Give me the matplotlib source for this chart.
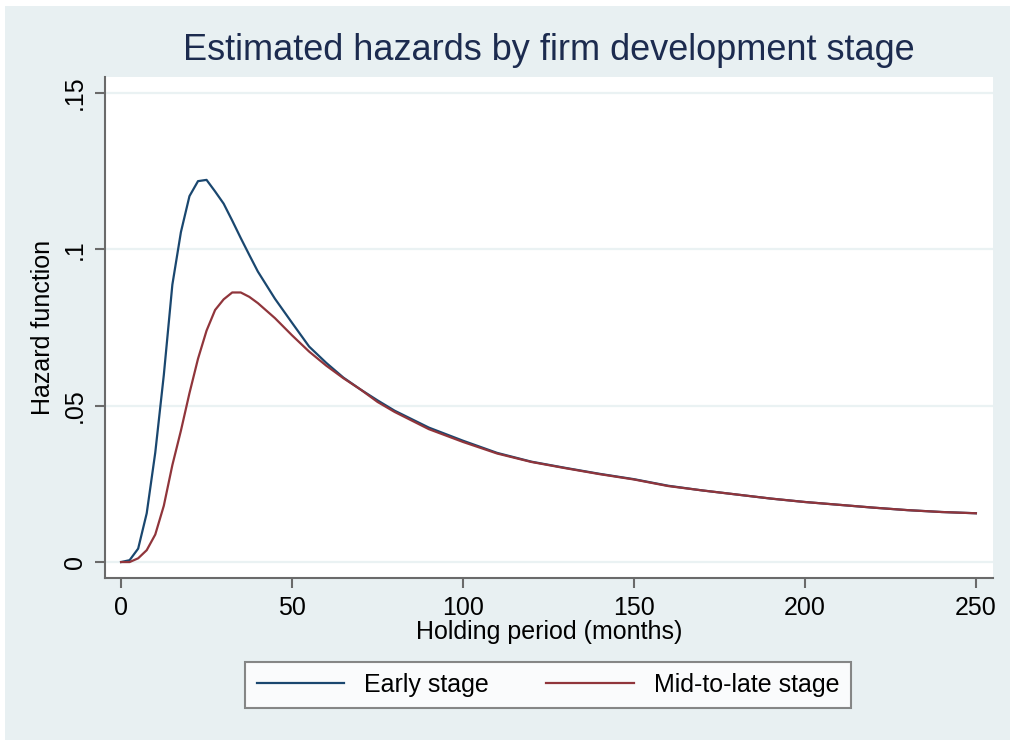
import matplotlib.pyplot as plt
from matplotlib.patches import Rectangle

# holding period grid (months) and estimated hazards for each stage
months = [0, 2.5, 5, 7.5, 10, 12.5, 15, 17.5, 20, 22.5, 25, 27.5, 30, 32.5, 35,
          37.5, 40, 45, 50, 55, 60, 65, 70, 75, 80, 90, 100, 110, 120, 130,
          140, 150, 160, 170, 180, 190, 200, 210, 220, 230, 240, 250]
hazard_early = [0, 0.0006, 0.0043, 0.0156, 0.035, 0.0598, 0.0887, 0.1055, 0.117,
                0.1218, 0.1222, 0.1185, 0.1146, 0.1092, 0.1036, 0.0982, 0.0929,
                0.0842, 0.0765, 0.0689, 0.0637, 0.0590, 0.0552, 0.0517, 0.0484,
                0.0430, 0.0388, 0.0349, 0.0321, 0.0301, 0.0282, 0.0265, 0.0244,
                0.0229, 0.0216, 0.0203, 0.0192, 0.0183, 0.0174, 0.0166, 0.0160,
                0.0156]
hazard_late = [0, 0.0, 0.0012, 0.0038, 0.0088, 0.0180, 0.031, 0.0420, 0.0540,
               0.0650, 0.0740, 0.0806, 0.0840, 0.0862, 0.0862, 0.0848, 0.0828,
               0.0780, 0.0725, 0.0673, 0.0628, 0.0588, 0.0552, 0.0512, 0.0480,
               0.0425, 0.0384, 0.0347, 0.0320, 0.0300, 0.0281, 0.0264, 0.0243,
               0.0229, 0.0216, 0.0203, 0.0192, 0.0183, 0.0174, 0.0166, 0.0160,
               0.0156]

xticks = [0, 50, 100, 150, 200, 250]
yticks = [0, 0.05, 0.1, 0.15]
ytick_labels = ["0", ".05", ".1", ".15"]

NAVY = "#1A476F"
MAROON = "#90353B"
PANEL = "#E8F0F2"
GRID = "#EAF2F3"
AXIS = "#6A6A6A"

plt.rcParams["font.family"] = ["Liberation Sans", "DejaVu Sans"]

fig = plt.figure(figsize=(10.1, 7.4), dpi=100, facecolor="white")
# graph region panel (leaves a thin white strip on top/left)
fig.patches.append(Rectangle((5 / 1010, 0), 1, 1 - 6 / 740, transform=fig.transFigure,
                             facecolor=PANEL, edgecolor="none", zorder=-1))

ax = fig.add_axes([105 / 1010, 162 / 740, 888 / 1010, 501 / 740])
ax.set_facecolor("white")

ax.plot(months, hazard_early, color=NAVY, lw=1.6, label="Early stage", zorder=3)
ax.plot(months, hazard_late, color=MAROON, lw=1.6, label="Mid-to-late stage", zorder=3)

ax.set_xlim(-4.7, 255)
ax.set_ylim(-0.0051, 0.1551)
ax.set_xticks(xticks)
ax.set_yticks(yticks)
ax.set_yticklabels(ytick_labels, rotation=90, va="center")
for y in yticks:
    ax.axhline(y, color=GRID, lw=1.6, zorder=1)

for side in ("top", "right"):
    ax.spines[side].set_visible(False)
for side in ("left", "bottom"):
    ax.spines[side].set_color(AXIS)
    ax.spines[side].set_linewidth(1.5)
ax.tick_params(length=7, width=1.5, color=AXIS, labelsize=18, pad=6)

ax.set_xlabel("Holding period (months)", fontsize=18, labelpad=0)
ax.set_ylabel("Hazard function", fontsize=18, labelpad=6)
ax.set_title("Estimated hazards by firm development stage", fontsize=26,
             color="#1C2B4F", pad=12)

leg = fig.legend(loc="center", bbox_to_anchor=(548 / 1010, 1 - 685 / 740), ncol=2,
                 fontsize=18, frameon=True, fancybox=False, handlelength=3.5,
                 columnspacing=2.3, handletextpad=0.8, borderpad=0.45)
leg.get_frame().set_edgecolor(AXIS)
leg.get_frame().set_linewidth(1.5)

fig.savefig("out.png", dpi=100, facecolor=fig.get_facecolor())
